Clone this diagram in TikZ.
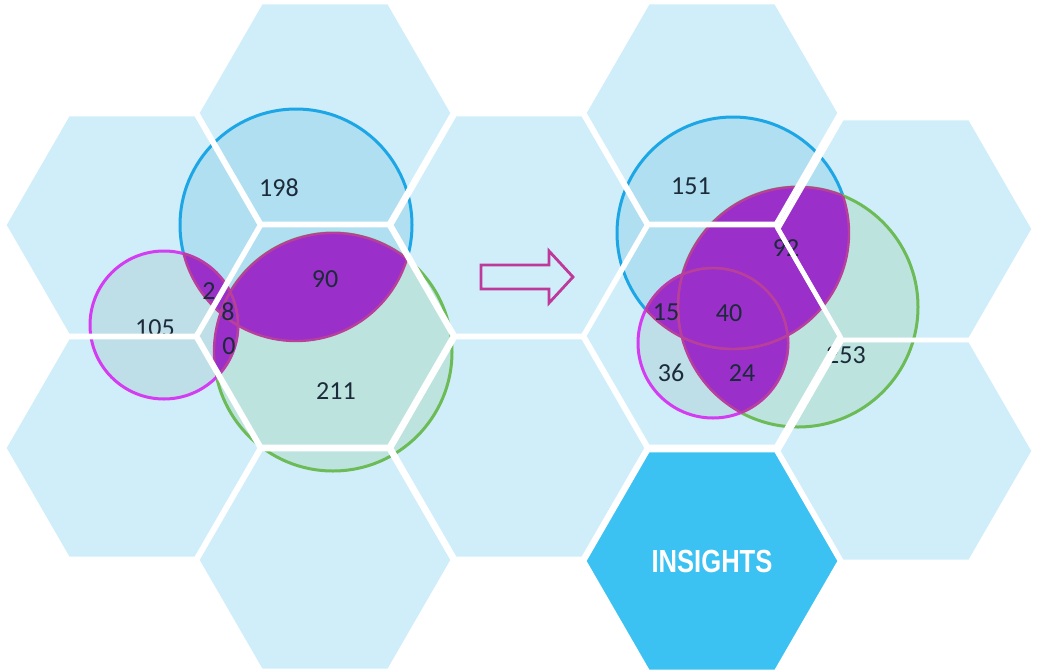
\documentclass[tikz,border=0pt]{standalone}
\usepackage{graphicx}
\usepackage{fontspec}
\setmainfont{Carlito}
\newfontfamily\insfont{Liberation Sans}
\definecolor{hexlight}{HTML}{D0EEFA}
\definecolor{hexdark}{HTML}{3BC2F2}
\definecolor{bluefill}{HTML}{AFDFF0}
\definecolor{bluestroke}{HTML}{1CA6E6}
\definecolor{greenfill}{HTML}{BDE3DF}
\definecolor{greenstroke}{HTML}{6CBB56}
\definecolor{magfill}{HTML}{BEDFE8}
\definecolor{magstroke}{HTML}{D43CF2}
\definecolor{lensfill}{HTML}{9A2FC9}
\definecolor{lensline}{HTML}{B8409A}
\definecolor{numtext}{HTML}{1C2B39}
\definecolor{arrowline}{HTML}{BE3A9A}
\newcommand\lensfillpair[4]{%
  \begin{scope}\clip (#1) circle[radius=#2];
    \fill[lensfill] (#3) circle[radius=#4];\end{scope}}
\newcommand\lensdrawpair[4]{%
  \begin{scope}\clip (#1) circle[radius=#2];
    \draw[lensedge] (#3) circle[radius=#4];\end{scope}%
  \begin{scope}\clip (#3) circle[radius=#4];
    \draw[lensedge] (#1) circle[radius=#2];\end{scope}}
\begin{document}
\begin{tikzpicture}[x=1pt,y=-1pt,
  num/.style={text=numtext,font=\fontsize{26}{28}\selectfont,inner sep=0pt},
  lensedge/.style={draw=lensline,line width=2.4pt},
  ring/.style={line width=3pt},
  hexedge/.style={draw=white,line width=4.5pt,line join=miter}]
\useasboundingbox (0,0) rectangle (1037,670);
% hexagon centres
\coordinate (h01) at (132,225);
\coordinate (h02) at (132,448);
\coordinate (h11) at (325,113);
\coordinate (h12) at (325,336);
\coordinate (h13) at (325,560);
\coordinate (h21) at (519,225);
\coordinate (h22) at (519,448);
\coordinate (h31) at (712,113);
\coordinate (h32) at (712,336);
\coordinate (h33) at (712,561);
\coordinate (h41) at (906,229);
\coordinate (h42) at (906,451);
\foreach \h in {h01,h02,h11,h12,h13,h21,h22,h31,h32,h41,h42}
  \fill[hexlight] (\h) +(0:128pt) -- +(60:128pt) -- +(120:128pt) -- +(180:128pt) -- +(240:128pt) -- +(300:128pt) -- cycle;
\fill[hexdark] (h33) +(0:128pt) -- +(60:128pt) -- +(120:128pt) -- +(180:128pt) -- +(240:128pt) -- +(300:128pt) -- cycle;
% circle centres
\coordinate (B1) at (296,225);
\coordinate (G1) at (333,352);
\coordinate (M1) at (164,325);
\coordinate (B2) at (733,233);
\coordinate (G2) at (798,307);
\coordinate (M2) at (713,343);
% circles
\filldraw[fill=bluefill,draw=bluestroke,ring] (B1) circle[radius=116pt];
\filldraw[fill=greenfill,draw=greenstroke,ring] (G1) circle[radius=119pt];
\filldraw[fill=magfill,draw=magstroke,ring] (M1) circle[radius=74pt];
\filldraw[fill=bluefill,draw=bluestroke,ring] (B2) circle[radius=116pt];
\filldraw[fill=greenfill,draw=greenstroke,ring] (G2) circle[radius=120pt];
\filldraw[fill=magfill,draw=magstroke,ring] (M2) circle[radius=75pt];
% overlaps
\lensfillpair{B1}{116pt}{G1}{119pt}
\lensfillpair{B1}{116pt}{M1}{74pt}
\lensfillpair{G1}{119pt}{M1}{74pt}
\lensfillpair{B2}{116pt}{G2}{120pt}
\lensfillpair{B2}{116pt}{M2}{75pt}
\lensfillpair{G2}{120pt}{M2}{75pt}
\lensdrawpair{B1}{116pt}{G1}{119pt}
\lensdrawpair{B1}{116pt}{M1}{74pt}
\lensdrawpair{G1}{119pt}{M1}{74pt}
\lensdrawpair{B2}{116pt}{G2}{120pt}
\lensdrawpair{B2}{116pt}{M2}{75pt}
\lensdrawpair{G2}{120pt}{M2}{75pt}
% numbers
\node[num] (n198) at (279,188) {198};
\node[num] (n90) at (325,279) {90};
\node[num] (n105) at (155,328) {105};
\node[num] (n2) at (209,291) {2};
\node[num] (n8) at (228,312) {8};
\node[num] (n0) at (229,346) {0};
\node[num] (n211) at (336,391) {211};
\node[num] (n151) at (691,186) {151};
\node[num] (n92) at (786,248) {92};
\node[num] (n15) at (666,312) {15};
\node[num] (n40) at (729,313) {40};
\node[num] (n36) at (671,373) {36};
\node[num] (n24) at (742,373) {24};
\node[num] (n253) at (846,355) {253};
% white gaps between cells
\foreach \h in {h01,h02,h11,h12,h13,h21,h22,h31,h32,h33,h41,h42}
  \draw[hexedge] (\h) +(0:128pt) -- +(60:128pt) -- +(120:128pt) -- +(180:128pt) -- +(240:128pt) -- +(300:128pt) -- cycle;
% block arrow
\draw[arrowline,line width=2.8pt,line join=miter]
  (481,265) -- (549,265) -- (549,251) -- (573,277) -- (549,303) -- (549,289) -- (481,289) -- cycle;
% insights label
\node[text=white,font=\insfont\bfseries\fontsize{32}{34}\selectfont,inner sep=0pt] (insights) at (712,561) {\scalebox{0.8}[1]{INSIGHTS}};
\end{tikzpicture}
\end{document}
